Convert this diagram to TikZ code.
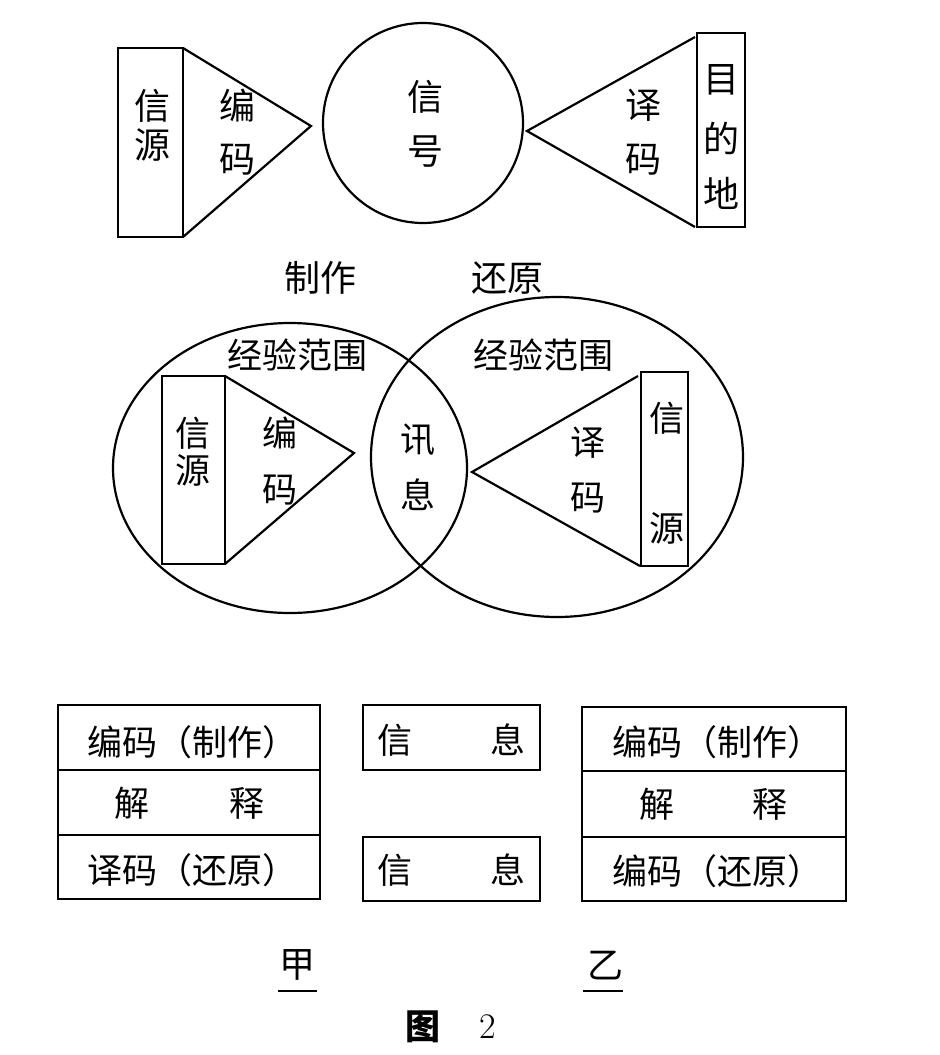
\documentclass[tikz,border=0pt]{standalone}
\usepackage{fontspec}
\newfontfamily\cjk{Noto Sans CJK SC}
\usetikzlibrary{math}

\begin{document}
\begin{tikzpicture}[x=0.5pt,y=-0.5pt,line width=1.1pt,
  zi/.style={font=\cjk\fontsize{18}{20}\selectfont,inner sep=0pt},
  zs/.style={font=\cjk\fontsize{17.5}{19}\selectfont,inner sep=0pt}]
\tikzmath{
\rowh=65;
}
\useasboundingbox (0,0) rectangle (939,1055);

% top: source -> signal -> destination
\draw (118,48) rectangle (183,237);
\coordinate (srcT) at (183,48);
\coordinate (srcB) at (183,237);
\coordinate (encTip) at (311,126);
\draw (srcT) -- (encTip) -- (srcB);
\node[zi] (src1) at (152,106) {信};
\node[zi] (src2) at (152,145) {源};
\node[zi] (enc1) at (237,106) {编};
\node[zi] (enc2) at (237,160) {码};

\node[draw,circle,minimum size=100pt,inner sep=0pt] (sig) at (423,123) {};
\node[zi] (sig1) at (425,97) {信};
\node[zi] (sig2) at (425,152) {号};

\coordinate (decTip) at (527,131);
\coordinate (dstT) at (695,37);
\coordinate (dstB) at (695,227);
\draw (dstT) -- (decTip) -- (dstB);
\draw (697,33) rectangle (745,227);
\node[zi] (dec1) at (643,105) {译};
\node[zi] (dec2) at (643,160) {码};
\node[zi] (dst1) at (721,80) {目};
\node[zi] (dst2) at (721,138) {的};
\node[zi] (dst3) at (721,193) {地};

\node[zi] (make) at (320,278) {制作};
\node[zi] (back) at (507,278) {还原};

% middle: two fields of experience
\draw (290,468) ellipse [x radius=177, y radius=145];
\draw (557,457) ellipse [x radius=186, y radius=160];
\node[zs] (fldL) at (297,355) {经验范围};
\node[zs] (fldR) at (543,355) {经验范围};

\draw (162,376) rectangle (225,564);
\coordinate (msrcT) at (225,376);
\coordinate (msrcB) at (225,564);
\coordinate (mencTip) at (354,453);
\draw (msrcT) -- (mencTip) -- (msrcB);
\node[zs] (msrc1) at (193,433) {信};
\node[zs] (msrc2) at (193,470) {源};
\node[zs] (menc1) at (280,433) {编};
\node[zs] (menc2) at (280,490) {码};

\node[zs] (msg1) at (418,440) {讯};
\node[zs] (msg2) at (418,495) {息};

\coordinate (mdecTip) at (472,472);
\coordinate (mdstT) at (638,376);
\coordinate (mdstB) at (640,566);
\draw (mdstT) -- (mdecTip) -- (mdstB);
\draw (641,372) rectangle (688,566);
\node[zs] (mdec1) at (588,443) {译};
\node[zs] (mdec2) at (588,498) {码};
\node[zs] (mdst1) at (667,418) {信};
\node[zs] (mdst2) at (667,528) {源};

% bottom: tables
\draw (58,705) rectangle (320,899);
\draw (58,770) -- (320,770);
\draw (58,835) -- (320,835);
\node[zs] (jia1) at (192,742) {编码（制作）};
\node[zs] (jia2a) at (132,803) {解};
\node[zs] (jia2b) at (247,803) {释};
\node[zs] (jia3) at (192,870) {译码（还原）};

\draw (363,705) rectangle (540,770);
\draw (363,837) rectangle (540,901);
\node[zs] (inf1a) at (395,740) {信};
\node[zs] (inf1b) at (508,740) {息};
\node[zs] (inf2a) at (395,870) {信};
\node[zs] (inf2b) at (508,870) {息};

\draw (582,707) rectangle (846,901);
\draw (582,771) -- (846,771);
\draw (582,837) -- (846,837);
\node[zs] (yi1) at (717,742) {编码（制作）};
\node[zs] (yi2a) at (657,804) {解};
\node[zs] (yi2b) at (770,804) {释};
\node[zs] (yi3) at (717,871) {编码（还原）};

\node[zi] (jia) at (297,965) {甲};
\draw (278,991) -- (317,991);
\node[zi] (yi) at (605,965) {乙};
\draw (583,991) -- (623,991);

\node[zs,font=\cjk\bfseries\fontsize{17.5}{19}\selectfont] (fig) at (423,1027) {图};
\node[inner sep=0pt,font=\fontsize{18}{20}\selectfont] (fignum) at (488,1027) {2};
\end{tikzpicture}
\end{document}
